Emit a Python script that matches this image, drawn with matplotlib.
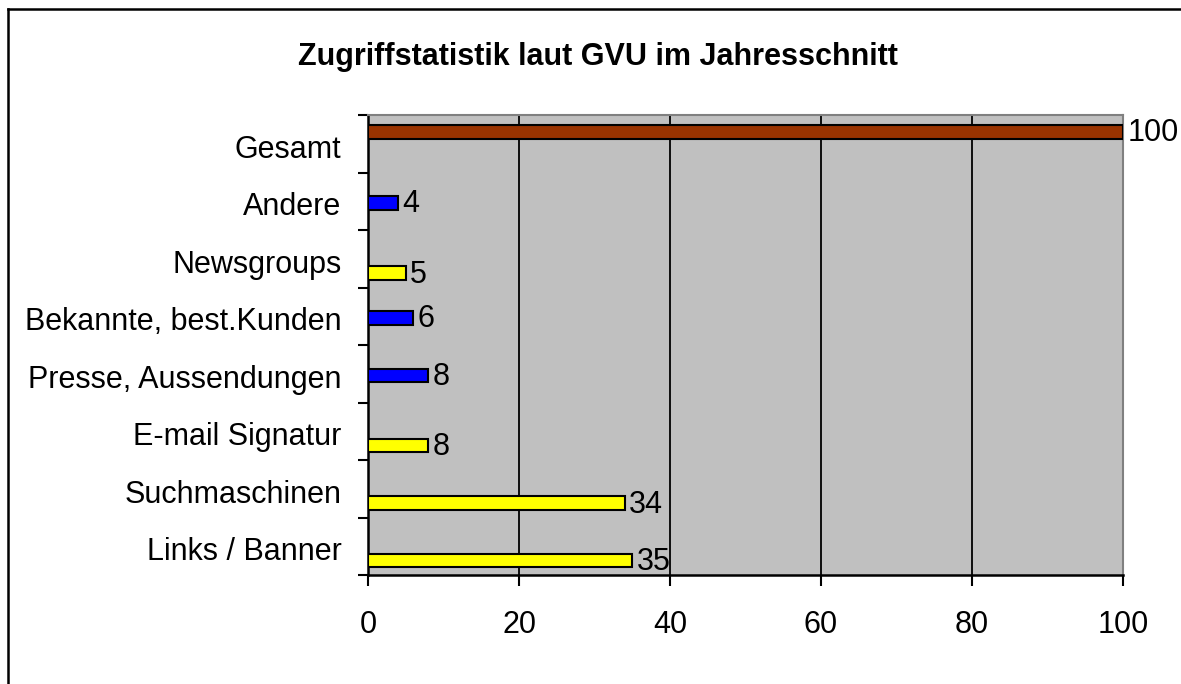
import numpy as np
import matplotlib
matplotlib.use("Agg")
import matplotlib.pyplot as plt
from matplotlib.lines import Line2D

# --- DATA (top to bottom) ---
categories = ["Gesamt", "Andere", "Newsgroups", "Bekannte, best.Kunden",
              "Presse, Aussendungen", "E-mail Signatur", "Suchmaschinen", "Links / Banner"]
values = [100, 4, 5, 6, 8, 8, 34, 35]
series = ["gesamt", "blau", "gelb", "blau", "blau", "gelb", "gelb", "gelb"]

colors = {"gesamt": "#993300", "blau": "#0000FF", "gelb": "#FFFF00"}
offsets = {"gesamt": 0.296, "blau": 0.53, "gelb": 0.75}
bar_h = 0.235

plt.rcParams['font.family'] = ['Liberation Sans', 'DejaVu Sans']
fs = 22

fig = plt.figure(figsize=(11.81, 6.84), dpi=100)
ax = fig.add_axes([368/1181, 1 - 575/684, (1123 - 368)/1181, (575 - 115)/684])
ax.set_facecolor("#C0C0C0")

n = len(categories)
for i, (v, s) in enumerate(zip(values, series)):
    y = i + offsets[s]
    ax.barh(y, v, height=bar_h, color=colors[s], edgecolor="black", linewidth=1.5, zorder=3)
    ax.annotate(str(v), xy=(v, y), xytext=(3, -1), textcoords="offset points",
                ha="left", va="center", fontsize=fs, zorder=4, annotation_clip=False)

ax.set_xlim(0, 100)
ax.set_ylim(n, 0)

# --- AXES ---
ax.set_xticks(np.arange(0, 101, 20))
ax.tick_params(axis="x", direction="out", length=8, width=1.5, pad=17, labelsize=fs)
for x in [20, 40, 60, 80]:
    ax.axvline(x, color="black", linewidth=1.3, zorder=1)

ax.set_yticks(np.arange(0, n + 1))
ax.set_yticklabels([])
ax.tick_params(axis="y", which="major", direction="out", length=7, width=1.5)
ax.set_yticks(np.arange(n) + 0.54, minor=True)
ax.set_yticklabels(categories, minor=True)
ax.tick_params(axis="y", which="minor", length=0, pad=19, labelsize=fs)

for side in ["left", "bottom"]:
    ax.spines[side].set_linewidth(1.8)
    ax.spines[side].set_color("black")
for side in ["right", "top"]:
    ax.spines[side].set_linewidth(1.5)
    ax.spines[side].set_color("#808080")

fig.text(598/1181, 1 - 57/684, "Zugriffstatistik laut GVU im Jahresschnitt",
         ha="center", va="center", fontsize=22, fontweight="bold")

# frame (only left and top visible)
fig.add_artist(Line2D([8/1181, 8/1181], [0, 1 - 9/684], color="black", linewidth=1.8))
fig.add_artist(Line2D([8/1181, 1], [1 - 9/684, 1 - 9/684], color="black", linewidth=1.8))

fig.savefig("out.png", dpi=100)
